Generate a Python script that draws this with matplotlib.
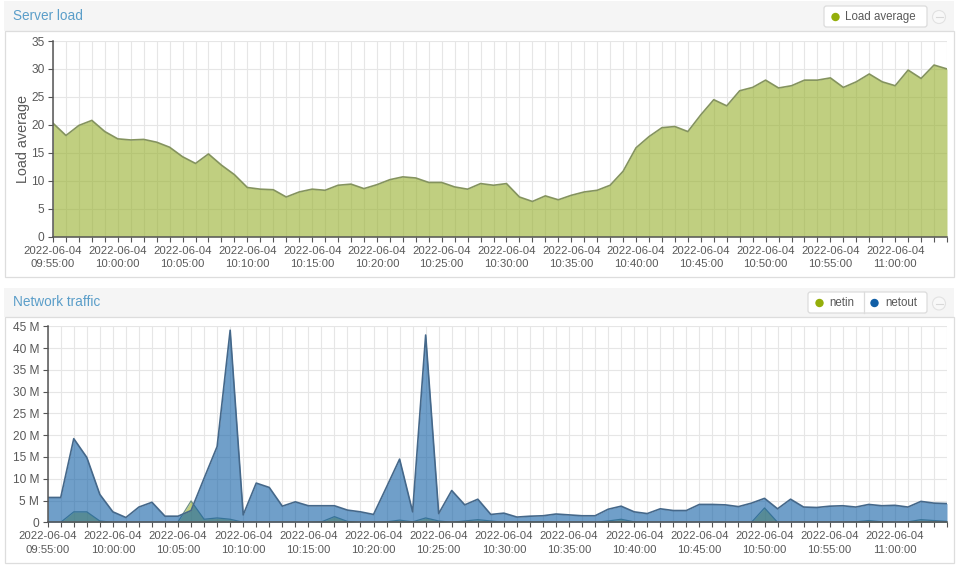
import matplotlib
matplotlib.use("Agg")
import matplotlib.pyplot as plt
import matplotlib.dates as mdates
from matplotlib.patches import Rectangle, FancyBboxPatch, Circle
from matplotlib.ticker import FuncFormatter
import pandas as pd

plt.rcParams['font.family'] = ['Liberation Sans', 'DejaVu Sans']

W, H = 961, 571

# one sample per minute
times = pd.date_range("2022-06-04 09:55:00", periods=70, freq="min")

load_average = [20.3, 18.1, 19.9, 20.8, 18.8, 17.5, 17.3, 17.4, 16.9, 16.0,
                14.3, 13.1, 14.8, 12.8, 11.1, 8.8, 8.5, 8.4, 7.1, 8.0,
                8.5, 8.3, 9.2, 9.4, 8.6, 9.3, 10.2, 10.7, 10.5, 9.7,
                9.7, 8.9, 8.5, 9.5, 9.2, 9.5, 7.1, 6.3, 7.3, 6.6,
                7.4, 8.0, 8.3, 9.2, 11.7, 15.9, 17.9, 19.5, 19.7, 18.8,
                21.8, 24.5, 23.4, 26.1, 26.7, 28.0, 26.6, 27.0, 28.0, 28.0,
                28.4, 26.7, 27.7, 29.1, 27.7, 27.0, 29.8, 28.3, 30.7, 30.0]

netout = [5.7, 5.7, 19.2, 14.9, 6.4, 2.4, 1.1, 3.5, 4.6, 1.4,
          1.4, 2.7, 10.1, 17.4, 44.1, 1.7, 9.0, 8.0, 3.7, 4.7,
          3.8, 3.8, 3.8, 2.8, 2.4, 1.8, 8.1, 14.5, 2.4, 43.0,
          2.0, 7.3, 4.0, 5.3, 1.8, 2.1, 1.2, 1.4, 1.5, 1.9,
          1.7, 1.5, 1.5, 3.0, 3.7, 2.4, 2.0, 3.1, 2.7, 2.7,
          4.1, 4.1, 4.0, 3.6, 4.4, 5.5, 3.1, 5.3, 3.5, 3.4,
          3.7, 3.8, 3.5, 4.1, 3.8, 3.9, 3.5, 4.8, 4.4, 4.3]

netin = [0.0, 0.0, 2.4, 2.4, 0.3, 0.0, 0.0, 0.0, 0.0, 0.0,
         0.1, 4.9, 0.7, 1.0, 0.7, 0.0, 0.0, 0.0, 0.0, 0.0,
         0.0, 0.1, 1.3, 0.2, 0.0, 0.0, 0.1, 0.5, 0.1, 1.0,
         0.3, 0.0, 0.3, 0.6, 0.3, 0.0, 0.1, 0.1, 0.1, 0.0,
         0.0, 0.0, 0.0, 0.3, 0.7, 0.1, 0.0, 0.0, 0.0, 0.0,
         0.0, 0.0, 0.0, 0.0, 0.0, 3.3, 0.0, 0.0, 0.0, 0.0,
         0.0, 0.0, 0.1, 0.4, 0.1, 0.0, 0.1, 0.6, 0.4, 0.2]

GREEN = '#94ae0a'
GREEN_FILL = '#96b02c'
BLUE = '#115fa6'
TEXT = '#595959'
AXIS = '#555555'
GRID = '#e6e6e6'
TITLE = '#5b9ec9'


def px_axes(left, top, right, bottom):
    return fig.add_axes([left / W, 1 - bottom / H, (right - left) / W, (bottom - top) / H])


def style_time_axis(ax, ymax, step):
    ax.set_facecolor('none')
    ax.set_xlim(times[0], times[-1])
    ax.set_ylim(0, ymax)
    ax.set_yticks(range(0, ymax + 1, step))
    ax.xaxis.set_major_locator(mdates.MinuteLocator(byminute=range(0, 60, 5)))
    ax.xaxis.set_minor_locator(mdates.MinuteLocator())
    ax.xaxis.set_major_formatter(mdates.DateFormatter('%Y-%m-%d\n%H:%M:%S'))
    ax.grid(True, which='both', axis='x', color=GRID, lw=0.8)
    ax.grid(True, which='major', axis='y', color=GRID, lw=0.8)
    ax.set_axisbelow(True)
    for s in ['top', 'right']:
        ax.spines[s].set_visible(False)
    for s in ['left', 'bottom']:
        ax.spines[s].set_color(AXIS)
        ax.spines[s].set_linewidth(1.1)
        ax.spines[s].set_zorder(6)
    ax.tick_params(axis='x', which='both', length=3.6, width=0.8, color=AXIS)
    ax.tick_params(axis='x', which='major', labelsize=8.2, labelcolor=TEXT, pad=3)
    ax.tick_params(axis='y', length=3.6, width=0.8, color=AXIS, labelsize=8.6, labelcolor=TEXT, pad=2.5)


def area(ax, values, color, edge, z=3, lw=1.2):
    ax.fill_between(times, 0, values, color=color, alpha=0.6, lw=0, zorder=z)
    ax.plot(times, values, color=edge, lw=lw, zorder=z, clip_on=True)


def panel(bg, top, header_bottom, bottom, title):
    bg.add_patch(Rectangle((4, top), 950, header_bottom - top, fc='#f5f5f5', ec='none'))
    bg.add_patch(Rectangle((4.5, header_bottom), 949, bottom - header_bottom, fc='white', ec='#dddddd', lw=0.9))
    bg.text(13, (top + header_bottom) / 2, title, color=TITLE, fontsize=9.8, va='center', ha='left')
    # collapse button
    cy = (top + header_bottom) / 2 + 1
    bg.add_patch(Circle((939, cy), 6.5, fc='#f8f8f8', ec='#e2e2e2', lw=0.8))
    bg.plot([935.5, 942.5], [cy, cy], color='#d8d8d8', lw=0.8)


def legend_box(bg, left, top, right, bottom):
    bg.add_patch(FancyBboxPatch((left, top), right - left, bottom - top,
                                boxstyle='round,pad=0,rounding_size=2.5',
                                fc='white', ec='#dcdcdc', lw=0.9))


def legend_item(bg, dot_x, text_x, y, color, label):
    bg.add_patch(Circle((dot_x, y), 4.2, fc=color, ec='none'))
    bg.text(text_x, y, label, color=TEXT, fontsize=8.3, va='center', ha='left')


fig = plt.figure(figsize=(W / 100, H / 100), dpi=100, facecolor='white')

# page furniture in pixel coordinates
bg = fig.add_axes([0, 0, 1, 1], zorder=0)
bg.set_xlim(0, W)
bg.set_ylim(H, 0)
bg.axis('off')

panel(bg, 1, 31, 277, 'Server load')
panel(bg, 288, 317, 563, 'Network traffic')

legend_box(bg, 824, 6, 927, 27)
legend_item(bg, 835.5, 845, 17, GREEN, 'Load average')

legend_box(bg, 808, 292, 927, 313)
bg.plot([864, 864], [292, 313], color='#dcdcdc', lw=0.9)
legend_item(bg, 819.5, 829, 303, GREEN, 'netin')
legend_item(bg, 874.5, 885, 303, BLUE, 'netout')

# Server load
ax1 = px_axes(53, 41, 947, 236.7)
ax1.set_zorder(1)
area(ax1, load_average, GREEN_FILL, '#84935e')
style_time_axis(ax1, 35, 5)
ax1.set_ylabel('Load average', fontsize=10.4, color=TEXT)
ax1.yaxis.set_label_coords((30 - 53) / 894, 0.5)

# Network traffic
ax2 = px_axes(47.7, 326.3, 947, 522.3)
ax2.set_zorder(1)
area(ax2, netin, GREEN_FILL, '#6f9184', z=3, lw=0.9)
area(ax2, netout, BLUE, '#45688a', z=4)
style_time_axis(ax2, 45, 5)
ax2.yaxis.set_major_formatter(FuncFormatter(lambda v, p: '0' if v == 0 else '%d M' % v))

# line spacing of the date labels only sticks once the ticks exist
fig.canvas.draw()
for ax in (ax1, ax2):
    for lab in ax.get_xticklabels():
        lab.set_linespacing(1.4)

fig.savefig('out.png', dpi=100)
